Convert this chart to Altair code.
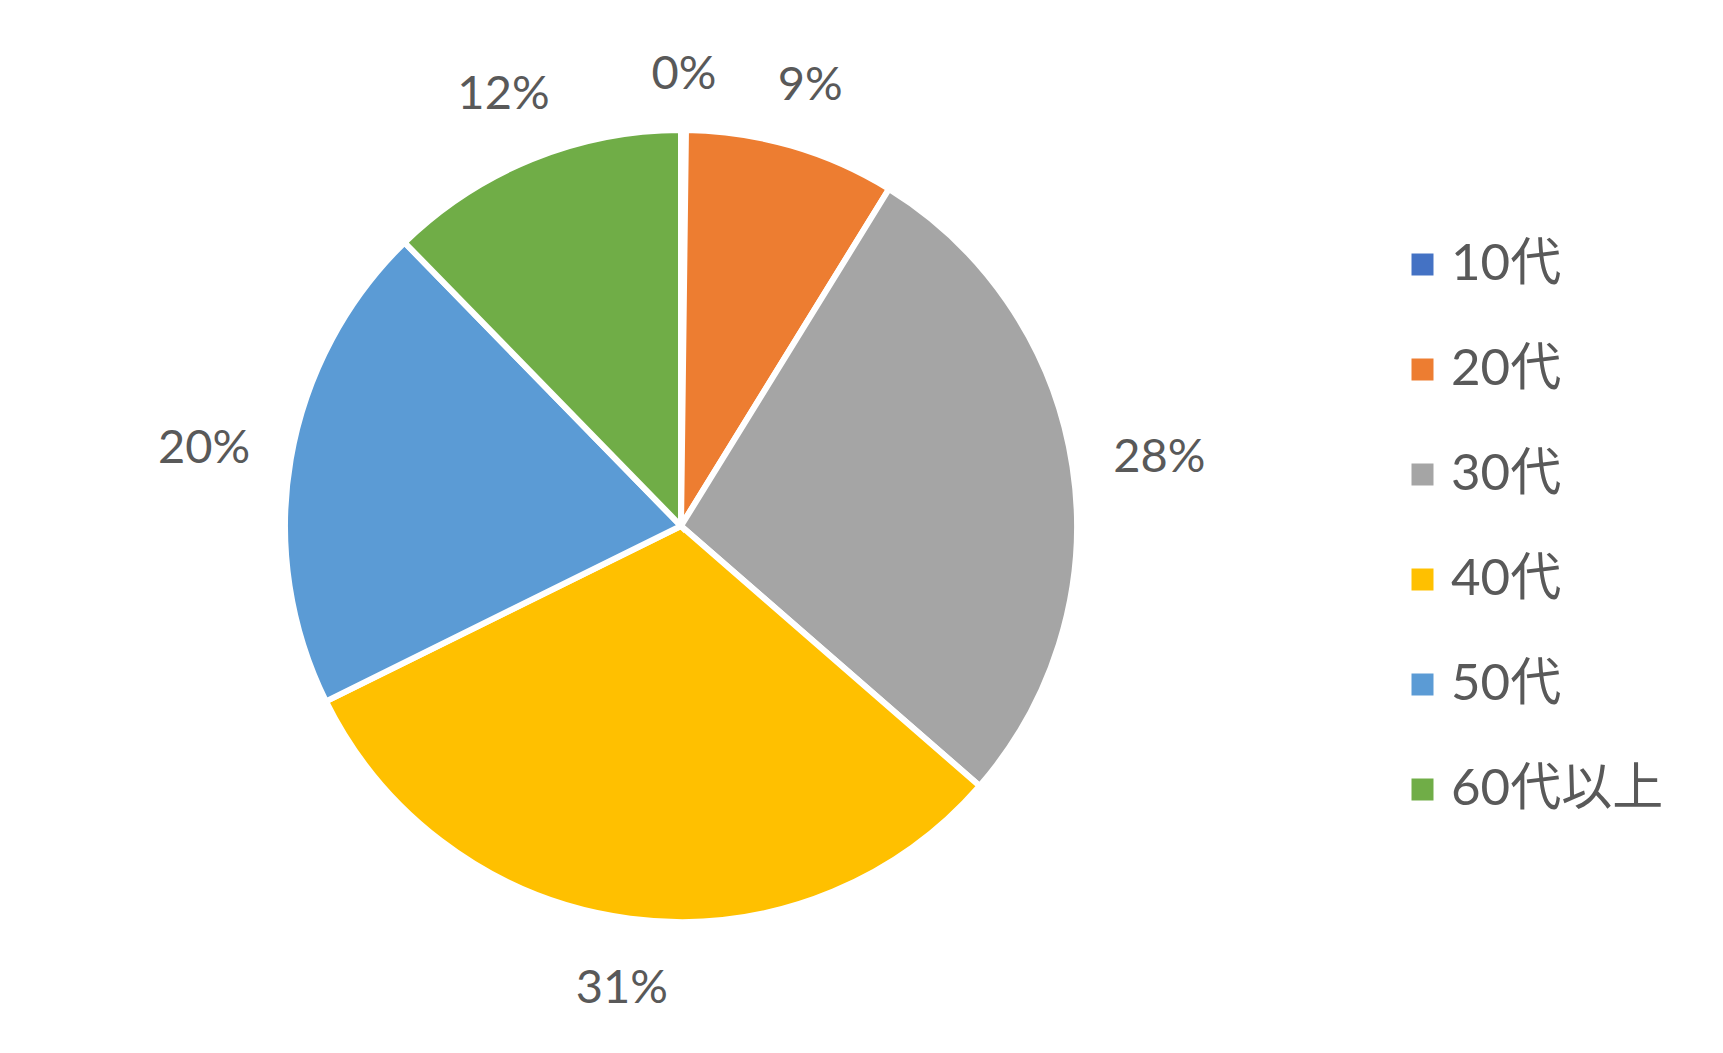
import altair as alt
import pandas as pd

categories = ["10代", "20代", "30代", "40代", "50代", "60代以上"]
shares = [0.2, 8.6, 27.6, 31.3, 20.0, 12.3]
colors = ["#4472C4", "#ED7D31", "#A5A5A5", "#FFC000", "#5B9BD5", "#70AD47"]

df = pd.DataFrame({"cat": categories, "val": shares, "ord": list(range(len(categories)))})

CX, CY = 673, 518
R = 396
FONT = "Lato, Noto Sans CJK JP, sans-serif"

arcs = alt.Chart(df).mark_arc(radius=R, stroke="white", strokeWidth=6).encode(
    theta=alt.Theta("val:Q", stack=True),
    order=alt.Order("ord:Q"),
    x=alt.value(CX),
    y=alt.value(CY),
    color=alt.Color(
        "cat:N",
        scale=alt.Scale(domain=categories, range=colors),
        sort=categories,
        legend=alt.Legend(
            title=None,
            orient="none",
            legendX=1389,
            legendY=231,
            symbolType="square",
            symbolSize=484,
            symbolStrokeWidth=0,
            labelFont=FONT,
            labelFontSize=51,
            labelColor="#595959",
            labelLimit=400,
            rowPadding=53,
            labelOffset=3,
            padding=0,
        ),
    ),
)

labels = (
    alt.Chart(df)
    .transform_window(cum="sum(val)", sort=[alt.SortField("ord")], frame=[None, 0])
    .transform_joinaggregate(total="sum(val)")
    .transform_calculate(
        lbl="round(datum.val) + '%'",
        mid="(datum.cum - datum.val / 2) / datum.total * 2 * PI",
    )
    .transform_calculate(
        rr=f"{R} + 42 + length(datum.lbl) * 14.5 * abs(sin(datum.mid)) + 18 * abs(cos(datum.mid))"
    )
    .transform_calculate(
        px=f"{CX} + datum.rr * sin(datum.mid)",
        py=f"{CY} - datum.rr * cos(datum.mid)",
    )
    .mark_text(font=FONT, fontSize=47, color="#595959", align="center", baseline="middle", dy=5)
    .encode(
        x=alt.X("px:Q", scale=None, axis=None),
        y=alt.Y("py:Q", scale=None, axis=None),
        text="lbl:N",
    )
)

chart = (arcs + labels).properties(width=1380, height=1000, padding=0).configure_view(stroke=None)

chart.save("out.html", embed_options={"renderer": "svg", "actions": False})
